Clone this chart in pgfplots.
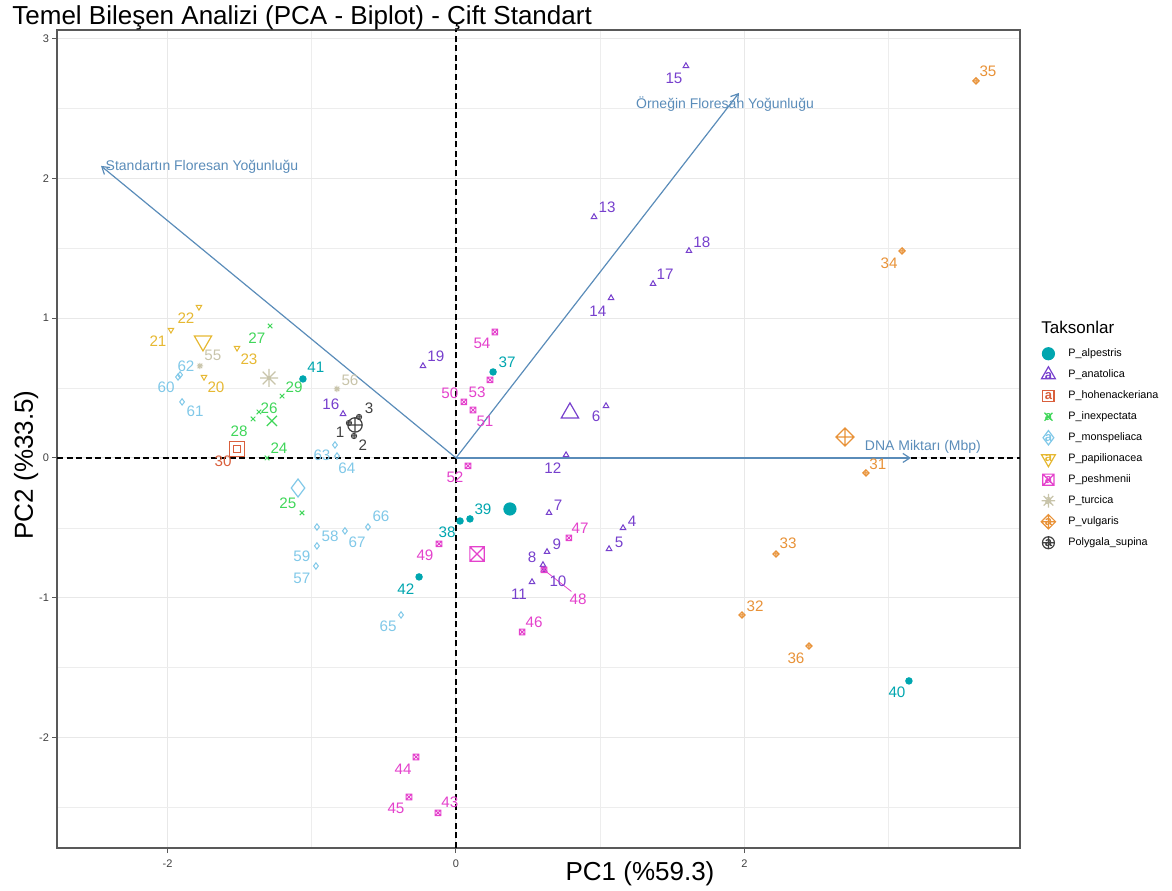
\documentclass[border=0pt]{standalone}
\usepackage{fontspec}
\setmainfont{Liberation Sans}
\usepackage{pgfplots}
\usepackage{pgfplotstable}
\pgfplotsset{compat=1.18}
\usetikzlibrary{arrows.meta}

% species colours
\definecolor{calp}{RGB}{0,166,175}
\definecolor{cana}{RGB}{119,64,205}
\definecolor{choh}{RGB}{217,95,60}
\definecolor{cinx}{RGB}{64,214,90}
\definecolor{cmon}{RGB}{128,200,232}
\definecolor{cpap}{RGB}{230,184,50}
\definecolor{cpes}{RGB}{228,66,204}
\definecolor{ctur}{RGB}{200,196,170}
\definecolor{cvul}{RGB}{232,146,56}
\definecolor{cpol}{RGB}{64,64,64}
\definecolor{steel}{RGB}{90,140,185}

% square with a cross
\pgfdeclareplotmark{sqx}{%
  \pgfpathrectangle{\pgfqpoint{-\pgfplotmarksize}{-\pgfplotmarksize}}{\pgfqpoint{2\pgfplotmarksize}{2\pgfplotmarksize}}%
  \pgfpathmoveto{\pgfqpoint{-\pgfplotmarksize}{-\pgfplotmarksize}}\pgfpathlineto{\pgfqpoint{\pgfplotmarksize}{\pgfplotmarksize}}%
  \pgfpathmoveto{\pgfqpoint{-\pgfplotmarksize}{\pgfplotmarksize}}\pgfpathlineto{\pgfqpoint{\pgfplotmarksize}{-\pgfplotmarksize}}%
  \pgfusepathqstroke}
% diamond with a plus
\pgfdeclareplotmark{dplus}{%
  \pgfpathmoveto{\pgfqpoint{0pt}{\pgfplotmarksize}}\pgfpathlineto{\pgfqpoint{\pgfplotmarksize}{0pt}}%
  \pgfpathlineto{\pgfqpoint{0pt}{-\pgfplotmarksize}}\pgfpathlineto{\pgfqpoint{-\pgfplotmarksize}{0pt}}\pgfpathclose
  \pgfpathmoveto{\pgfqpoint{0pt}{\pgfplotmarksize}}\pgfpathlineto{\pgfqpoint{0pt}{-\pgfplotmarksize}}%
  \pgfpathmoveto{\pgfqpoint{-\pgfplotmarksize}{0pt}}\pgfpathlineto{\pgfqpoint{\pgfplotmarksize}{0pt}}%
  \pgfusepathqstroke}
% eight-armed asterisk
\pgfdeclareplotmark{ast8}{%
  \pgfpathmoveto{\pgfqpoint{0pt}{\pgfplotmarksize}}\pgfpathlineto{\pgfqpoint{0pt}{-\pgfplotmarksize}}%
  \pgfpathmoveto{\pgfqpoint{-\pgfplotmarksize}{0pt}}\pgfpathlineto{\pgfqpoint{\pgfplotmarksize}{0pt}}%
  \pgfpathmoveto{\pgfqpoint{-0.707\pgfplotmarksize}{-0.707\pgfplotmarksize}}\pgfpathlineto{\pgfqpoint{0.707\pgfplotmarksize}{0.707\pgfplotmarksize}}%
  \pgfpathmoveto{\pgfqpoint{-0.707\pgfplotmarksize}{0.707\pgfplotmarksize}}\pgfpathlineto{\pgfqpoint{0.707\pgfplotmarksize}{-0.707\pgfplotmarksize}}%
  \pgfusepathqstroke}
% the letter drawn over each legend key
\newcommand{\keyfont}{\fontsize{6.5}{6.5}\selectfont\bfseries}

\pgfplotsset{
  pts/.style={only marks, forget plot, color=#1, mark size=1.6pt, line width=0.5pt},
  ctr/.style={only marks, forget plot, color=#1, mark size=3.6pt, line width=0.6pt},
  lbl/.style={draw=none, mark=none, forget plot, nodes near coords,
    point meta=explicit symbolic,
    every node near coord/.append style={anchor=center, inner sep=0pt, text=#1,
      font=\fontsize{7.6}{8}\selectfont}},
}

% x y = scores, lx ly = label position
\pgfplotstableread{
x y lx ly id
0.257 0.615 0.354 0.687 37
0.028 -0.451 -0.062 -0.529 38
0.097 -0.436 0.187 -0.365 39
3.140 -1.595 3.057 -1.674 40
-1.061 0.565 -0.971 0.651 41
-0.256 -0.851 -0.347 -0.937 42
}\alp
\pgfplotstableread{
x y lx ly id
1.158 -0.501 1.220 -0.451 4
1.061 -0.651 1.130 -0.601 5
1.040 0.372 0.971 0.300 6
0.645 -0.393 0.707 -0.336 7
0.603 -0.765 0.527 -0.708 8
0.631 -0.672 0.700 -0.615 9
0.610 -0.801 0.707 -0.880 10
0.527 -0.887 0.437 -0.973 11
0.763 0.021 0.672 -0.072 12
0.957 1.724 1.047 1.795 13
1.075 1.144 0.984 1.052 14
1.594 2.804 1.511 2.718 15
-0.783 0.315 -0.867 0.386 16
1.366 1.245 1.449 1.316 17
1.615 1.481 1.705 1.545 18
-0.229 0.658 -0.139 0.730 19
}\ana
\pgfplotstableread{
x y lx ly id
-1.518 0.064 -1.615 -0.021 30
}\hoh
\pgfplotstableread{
x y lx ly id
-1.310 0.000 -1.227 0.072 24
-1.068 -0.393 -1.165 -0.322 25
-1.366 0.329 -1.296 0.358 26
-1.289 0.944 -1.380 0.858 27
-1.407 0.279 -1.504 0.193 28
-1.206 0.443 -1.123 0.508 29
}\inx
\pgfplotstableread{
x y lx ly id
-0.971 -0.773 -1.068 -0.858 57
-0.964 -0.494 -0.873 -0.558 58
-0.964 -0.629 -1.068 -0.701 59
-1.927 0.579 -2.010 0.508 60
-1.899 0.401 -1.809 0.336 61
-1.913 0.594 -1.872 0.658 62
-0.839 0.093 -0.929 0.021 63
-0.825 0.014 -0.756 -0.072 64
-0.381 -1.123 -0.471 -1.202 65
-0.610 -0.494 -0.520 -0.415 66
-0.770 -0.522 -0.686 -0.601 67
}\mon
\pgfplotstableread{
x y lx ly id
-1.747 0.579 -1.664 0.508 20
-1.976 0.916 -2.066 0.837 21
-1.782 1.080 -1.872 1.001 22
-1.518 0.787 -1.435 0.708 23
}\pap
\pgfplotstableread{
x y lx ly id
-0.125 -2.539 -0.042 -2.461 43
-0.277 -2.139 -0.367 -2.225 44
-0.326 -2.425 -0.416 -2.504 45
0.458 -1.245 0.541 -1.173 46
0.783 -0.572 0.860 -0.501 47
0.610 -0.801 0.846 -1.009 48
-0.118 -0.615 -0.215 -0.694 49
0.055 0.401 -0.042 0.465 50
0.118 0.343 0.201 0.265 51
0.083 -0.057 -0.007 -0.136 52
0.236 0.558 0.146 0.472 53
0.270 0.901 0.180 0.823 54
}\pes
\pgfplotstableread{
x y lx ly id
-1.775 0.658 -1.685 0.737 55
-0.825 0.494 -0.735 0.558 56
}\tur
\pgfplotstableread{
x y lx ly id
2.842 -0.107 2.925 -0.043 31
1.983 -1.123 2.073 -1.059 32
2.218 -0.687 2.302 -0.608 33
3.092 1.481 3.002 1.395 34
3.605 2.697 3.688 2.768 35
2.447 -1.345 2.357 -1.431 36
}\vul
\pgfplotstableread{
x y lx ly id
-0.742 0.250 -0.804 0.186 1
-0.707 0.157 -0.645 0.093 2
-0.672 0.293 -0.603 0.358 3
}\pol

% legend key: colour, mark options, vertical offset of the letter
\newcommand{\keyimg}[3]{%
  \addlegendimage{legend image code/.code={%
    \draw[#1, line width=0.6pt, only marks, #2] plot coordinates {(0pt,0pt)};
    \pgftext[at={\pgfpoint{0pt}{#3}}]{\color{#1}\keyfont a}%
    \path[draw=none, fill=none] (-5pt,-4pt) rectangle (5pt,4pt);}}}

\begin{document}
\begin{tikzpicture}
\useasboundingbox (0,0) rectangle (586pt,445pt);
\begin{axis}[
  at={(28.5pt,21pt)}, anchor=south west,
  scale only axis, width=481.5pt, height=409pt,
  xmin=-2.766, xmax=3.910, ymin=-2.790, ymax=3.061,
  xtick={-2,0,2}, minor xtick={-1,1,3},
  ytick={-2,-1,0,1,2,3}, minor ytick={-2.5,-1.5,-0.5,0.5,1.5,2.5},
  grid=both,
  major grid style={draw=black!9, line width=0.5pt},
  minor grid style={draw=black!7, line width=0.35pt},
  axis line style={draw=black!65, line width=0.6pt},
  tick align=outside, tick pos=left,
  major tick length=2.5pt, minor tick length=0pt,
  tick style={draw=black!65, line width=0.5pt},
  ticklabel style={font=\fontsize{5.5}{6}\selectfont, text=black!75},
  yticklabel style={xshift=2pt},
  /pgf/number format/assume math mode=true,
  legend cell align=left,
  legend style={at={(1.0187,0.6145)}, anchor=north west, draw=none, fill=none,
    inner sep=0pt, row sep=2.5pt, column sep=5pt,
    nodes={inner sep=0pt, font=\fontsize{5.4}{6}\selectfont, text height=4pt, text depth=1pt}},
]
% reference lines through the origin
\addplot[forget plot, black, line width=0.65pt, dash pattern=on 3pt off 1.8pt] coordinates {(-2.766,0) (3.910,0)};
\addplot[forget plot, black, line width=0.65pt, dash pattern=on 3pt off 1.8pt] coordinates {(0,-2.790) (0,3.061)};

% loading vectors
\addplot[forget plot, steel, line width=0.6pt, -{Straight Barb[length=3.5pt,width=4.5pt]}] coordinates {(0,0) (-2.461,2.089)};
\addplot[forget plot, steel, line width=0.6pt, -{Straight Barb[length=3.5pt,width=4.5pt]}] coordinates {(0,0) (1.962,2.611)};
\addplot[forget plot, steel, line width=0.6pt, -{Straight Barb[length=3.5pt,width=4.5pt]}] coordinates {(0,0) (3.154,0)};
\node[text=steel, font=\fontsize{7}{8}\selectfont, inner sep=0pt] at (axis cs:-1.761,2.082) {Standartın Floresan Yoğunluğu};
\node[text=steel, font=\fontsize{7}{8}\selectfont, inner sep=0pt] at (axis cs:1.865,2.532) {Örneğin Floresan Yoğunluğu};
\node[text=steel, font=\fontsize{7}{8}\selectfont, inner sep=0pt] at (axis cs:3.237,0.079) {DNA Miktarı (Mbp)};

% repel segment for sample 48
\addplot[forget plot, cpes, line width=0.4pt] coordinates {(0.610,-0.801) (0.80,-0.955)};

% sample scores
\addplot[pts=calp, mark=*] table[x=x,y=y] {\alp};
\addplot[pts=cana, mark=triangle] table[x=x,y=y] {\ana};
\addplot[pts=choh, mark=square] table[x=x,y=y] {\hoh};
\addplot[pts=cinx, mark=x] table[x=x,y=y] {\inx};
\addplot[pts=cmon, mark=diamond] table[x=x,y=y] {\mon};
\addplot[pts=cpap, mark=triangle, mark options={rotate=180}] table[x=x,y=y] {\pap};
\addplot[pts=cpes, mark=sqx, mark size=1.4pt] table[x=x,y=y] {\pes};
\addplot[pts=ctur, mark=ast8] table[x=x,y=y] {\tur};
\addplot[pts=cvul, mark=dplus] table[x=x,y=y] {\vul};
\addplot[pts=cpol, mark=oplus, mark size=1.3pt] table[x=x,y=y] {\pol};

% group centroids
\addplot[ctr=calp, mark=*, mark size=3pt] coordinates {(0.374,-0.365)};
\addplot[ctr=cana, mark=triangle, mark size=5pt] coordinates {(0.790,0.322)};
\addplot[ctr=choh, mark=square] coordinates {(-1.518,0.064)};
\addplot[ctr=cinx, mark=x] coordinates {(-1.276,0.265)};
\addplot[ctr=cmon, mark=diamond, mark size=4.5pt] coordinates {(-1.095,-0.215)};
\addplot[ctr=cpap, mark=triangle, mark size=5pt, mark options={rotate=180}] coordinates {(-1.754,0.837)};
\addplot[ctr=cpes, mark=sqx] coordinates {(0.146,-0.687)};
\addplot[ctr=ctur, mark=ast8, mark size=4.5pt] coordinates {(-1.296,0.572)};
\addplot[ctr=cvul, mark=dplus, mark size=4.5pt] coordinates {(2.697,0.150)};
\addplot[ctr=cpol, mark=oplus] coordinates {(-0.700,0.236)};

% sample labels
\addplot[lbl=calp] table[x=lx,y=ly,meta=id] {\alp};
\addplot[lbl=cana] table[x=lx,y=ly,meta=id] {\ana};
\addplot[lbl=choh] table[x=lx,y=ly,meta=id] {\hoh};
\addplot[lbl=cinx] table[x=lx,y=ly,meta=id] {\inx};
\addplot[lbl=cmon] table[x=lx,y=ly,meta=id] {\mon};
\addplot[lbl=cpap] table[x=lx,y=ly,meta=id] {\pap};
\addplot[lbl=cpes] table[x=lx,y=ly,meta=id] {\pes};
\addplot[lbl=ctur] table[x=lx,y=ly,meta=id] {\tur};
\addplot[lbl=cvul] table[x=lx,y=ly,meta=id] {\vul};
\addplot[lbl=cpol] table[x=lx,y=ly,meta=id] {\pol};

% legend keys
\keyimg{calp}{mark=*, mark size=3pt}{0pt}
\addlegendentry{P\_alpestris}
\keyimg{cana}{mark=triangle, mark size=4pt}{-0.5pt}
\addlegendentry{P\_anatolica}
\keyimg{choh}{mark=square, mark size=2.8pt}{0pt}
\addlegendentry{P\_hohenackeriana}
\keyimg{cinx}{mark=x, mark size=2.8pt}{0pt}
\addlegendentry{P\_inexpectata}
\keyimg{cmon}{mark=diamond, mark size=3.6pt}{0pt}
\addlegendentry{P\_monspeliaca}
\keyimg{cpap}{mark=triangle, mark size=4pt, mark options={rotate=180}}{0.5pt}
\addlegendentry{P\_papilionacea}
\keyimg{cpes}{mark=sqx, mark size=2.8pt}{0pt}
\addlegendentry{P\_peshmenii}
\keyimg{ctur}{mark=ast8, mark size=3.4pt}{0pt}
\addlegendentry{P\_turcica}
\keyimg{cvul}{mark=dplus, mark size=3.6pt}{0pt}
\addlegendentry{P\_vulgaris}
\keyimg{cpol}{mark=oplus, mark size=3pt}{0pt}
\addlegendentry{Polygala\_supina}
\end{axis}

\node[anchor=base west, inner sep=0pt, font=\fontsize{13}{14}\selectfont] at (6pt,432.5pt) {Temel Bileşen Analizi (PCA - Biplot) - Çift Standart};
\node[anchor=base, inner sep=0pt, font=\fontsize{13}{14}\selectfont] at (320pt,5pt) {PC1 (\%59.3)};
\node[anchor=base, inner sep=0pt, rotate=90, font=\fontsize{13}{14}\selectfont] at (16.5pt,212.5pt) {PC2 (\%33.5)};
\node[anchor=base west, inner sep=0pt, font=\fontsize{8.5}{9}\selectfont] at (520.5pt,278pt) {Taksonlar};
\end{tikzpicture}
\end{document}
